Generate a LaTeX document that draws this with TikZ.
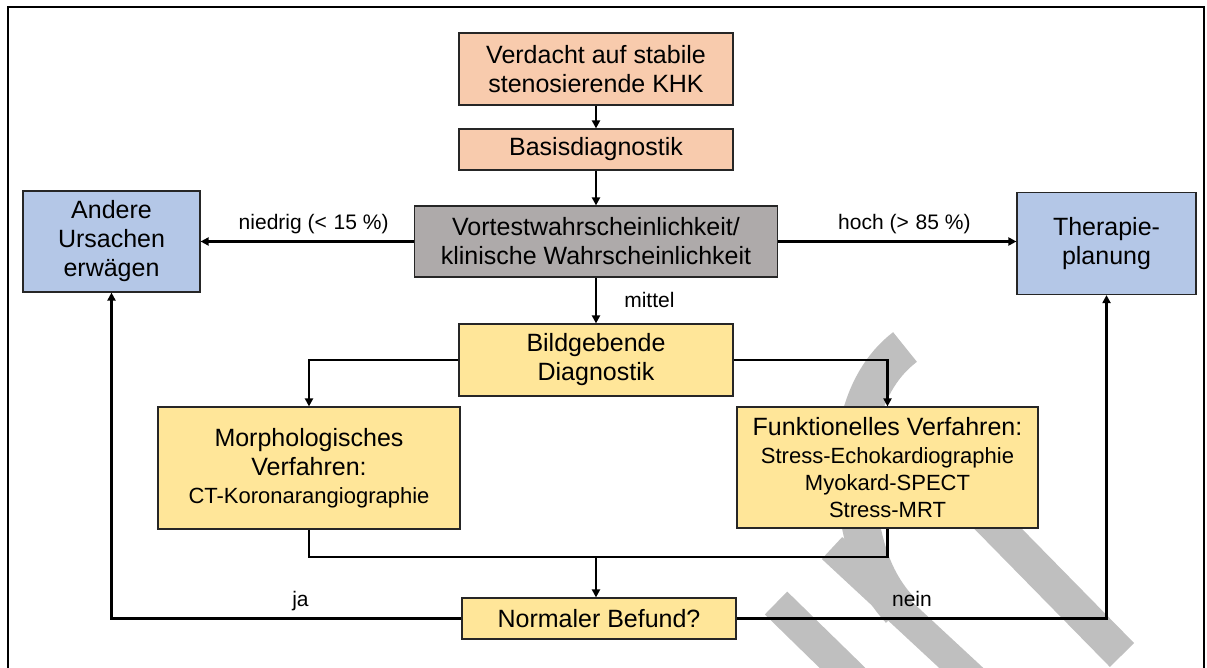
\documentclass[tikz,border=0pt]{standalone}
\usepackage{fontspec}
\setmainfont{Liberation Sans}
\usetikzlibrary{arrows.meta, positioning}
\definecolor{salmonbox}{HTML}{F8CBAD}
\definecolor{greybox}{HTML}{AEAAAA}
\definecolor{bluebox}{HTML}{B4C7E7}
\definecolor{yellowbox}{HTML}{FFE699}
\definecolor{watermark}{HTML}{BFBFBF}
\newcommand{\smallline}{\fontsize{22}{27}\selectfont}

\begin{document}
\begin{tikzpicture}[
                x=1pt, y=-1pt,
                boxnode/.style={shape=rectangle, draw=black!85, line width=1.2pt, align=center, inner sep=0pt, font=\fontsize{25}{29}\selectfont},
                salmonnode/.style={boxnode, fill=salmonbox},
                greynode/.style={boxnode, fill=greybox},
                bluenode/.style={boxnode, fill=bluebox},
                yellownode/.style={boxnode, fill=yellowbox},
                arrowline/.style={line width=2.5pt, -{Triangle[length=8pt, width=8pt]}},
                plainline/.style={line width=2.5pt},
                edgelabel/.style={font=\fontsize{21}{25}\selectfont, inner sep=0pt},
                hlabel/.style={edgelabel, anchor=base, yshift=12pt}
            ]
                \useasboundingbox (0,0) rectangle (1207,668);

                % Watermark
                \draw[watermark, line width=32pt] (776,603) -- (860,685);
                \draw[watermark, line width=30pt] (832,548) -- (985,690);
                \draw[watermark, line width=34pt] (960,490) -- (1122,655);
                \draw[watermark, line width=38pt] (905,347) .. controls (855,385) and (848,460) .. (858,510) .. controls (864,545) and (872,580) .. (900,610);

                % Frame
                \draw[line width=2pt] (8,680) -- (8,7) -- (1204,7) -- (1204,680);

                % Boxes
                \node[salmonnode, minimum width=274pt, minimum height=72pt] (verdacht) at (596,69) {Verdacht auf stabile\\stenosierende KHK};
                \node[salmonnode, minimum width=274pt, minimum height=41pt] (basis) at (596,149.5) {Basisdiagnostik};
                \node[greynode, minimum width=363pt, minimum height=71pt] (vortest) at (596,241.5) {Vortestwahrscheinlichkeit/\\klinische Wahrscheinlichkeit};
                \node[bluenode, minimum width=177pt, minimum height=101pt] (andere) at (111.5,241.5) {Andere\\Ursachen\\erwägen};
                \node[bluenode, minimum width=179pt, minimum height=102pt] (therapie) at (1106.5,243.5) {Therapie-\\planung};
                \node[yellownode, minimum width=274pt, minimum height=72pt] (bild) at (596,360) {Bildgebende\\Diagnostik};
                \node[yellownode, minimum width=302pt, minimum height=122pt] (morph) at (309,468) {Morphologisches\\Verfahren:\\[-1pt]\smallline CT-Koronarangiographie};
                \node[yellownode, minimum width=301pt, minimum height=121pt] (funkt) at (887.5,467.5) {Funktionelles Verfahren:\\[-1pt]\smallline Stress-Echokardiographie\\[-2pt]\smallline Myokard-SPECT\\[-2pt]\smallline Stress-MRT};
                \node[yellownode, minimum width=274pt, minimum height=41pt] (normal) at (599,618.5) {Normaler Befund?};

                % Connectors
                \draw[arrowline] (verdacht.south) -- (basis.north);
                \draw[arrowline] (basis.south) -- (vortest.north);
                \draw[arrowline] (vortest.west) -- node[hlabel, pos=0.47] {niedrig (<\kern1pt{} 15 \%)} (andere.east);
                \draw[arrowline] (vortest.east) -- node[hlabel, pos=0.53] {hoch (>\kern1pt{} 85 \%)} (therapie.west |- vortest.east);
                \draw[arrowline] (vortest.south) -- node[edgelabel, anchor=base west, xshift=27pt, yshift=-7pt] {mittel} (bild.north);
                \draw[arrowline] (bild.east) -| (funkt.north);
                \draw[arrowline] (bild.west) -| (morph.north);

                \coordinate (merge) at (596,557);
                \draw[plainline] (morph.south) |- (merge) -| (funkt.south);
                \draw[arrowline] (merge) -- (merge |- normal.north);
                \draw[arrowline] (normal.west) -| node[hlabel, pos=0.23] {ja} (andere.south);
                \draw[arrowline] (normal.east) -| node[hlabel, pos=0.237] {nein} (therapie.south);
            \end{tikzpicture}
\end{document}
